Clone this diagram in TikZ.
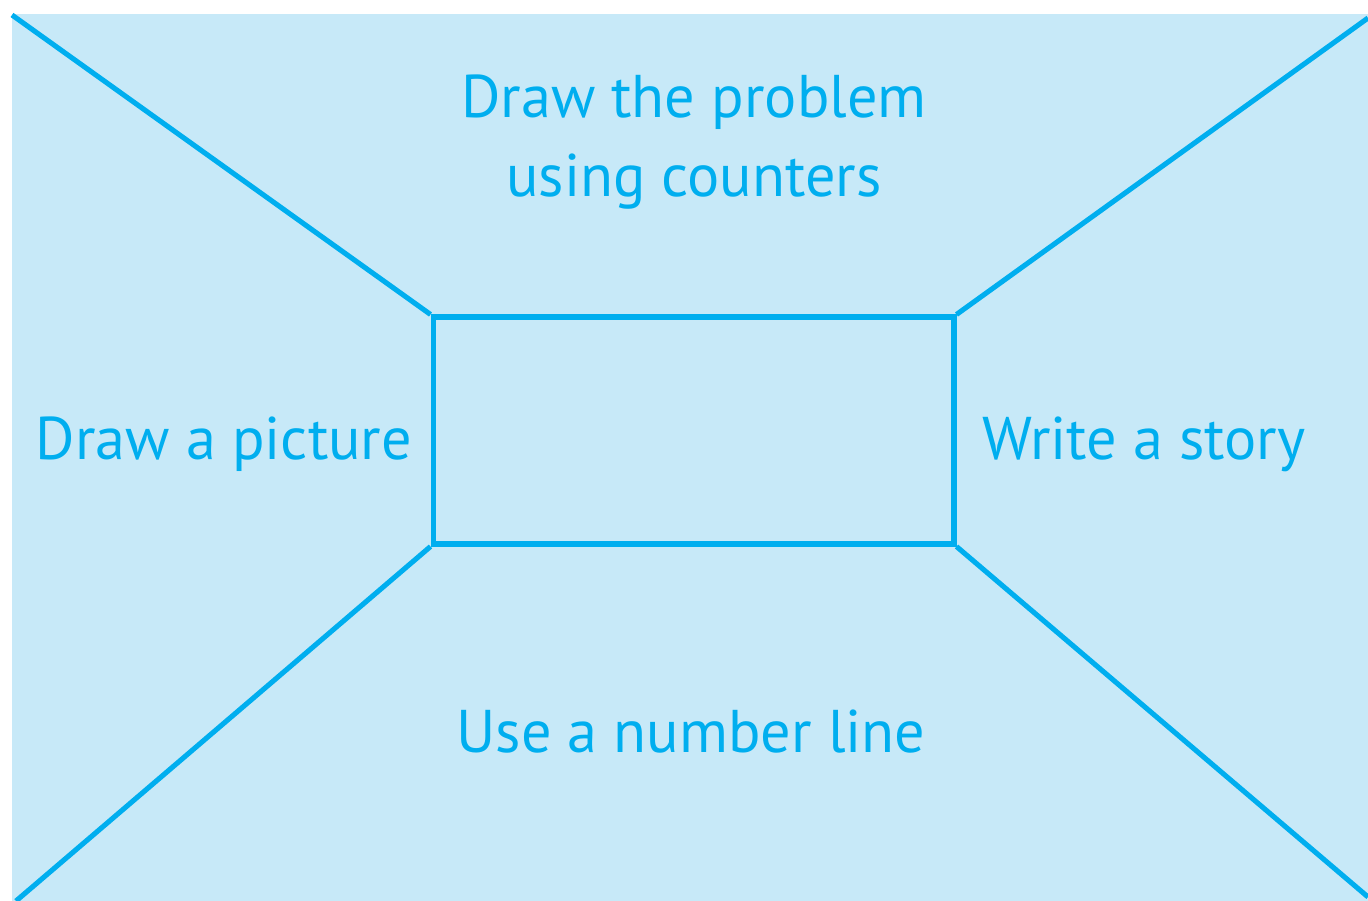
\documentclass[tikz,border=0pt]{standalone}
\usepackage{fontspec}
\setmainfont{PT Sans}
\definecolor{fond}{HTML}{C7E9F8}
\definecolor{trait}{HTML}{00AEEF}
\begin{document}
\begin{tikzpicture}[x=0.02cm, y=-0.02cm]
\tikzset{ligne/.style={draw=trait, line width=2.9pt},
  texte/.style={text=trait, font=\fontsize{34.3}{41}\selectfont, align=center, inner sep=0pt, anchor=base}}
\useasboundingbox (0, 0) rectangle (1368, 901);
\fill[fond] (12, 14) rectangle (1368, 901);
\node[ligne, minimum width=10.42cm, minimum height=4.54cm, inner sep=0pt] (B) at (693.5, 430.5) {};
\coordinate (C1) at (12, 15);
\coordinate (C2) at (1368, 18);
\coordinate (C3) at (16, 901);
\coordinate (C4) at (1368, 897);
\draw[ligne] (C1) -- (B.north west);
\draw[ligne] (C2) -- (B.north east);
\draw[ligne] (C3) -- (B.south west);
\draw[ligne] (C4) -- (B.south east);
\node[texte] (T1) at (694, 118) {Draw the problem};
\node[texte] (T2) at (694, 197) {using counters};
\node[texte] (T3) at (224, 460) {Draw a picture};
\node[texte] (T4) at (1144, 460) {Write a story};
\node[texte] (T5) at (691, 752) {Use a number line};
\end{tikzpicture}
\end{document}
